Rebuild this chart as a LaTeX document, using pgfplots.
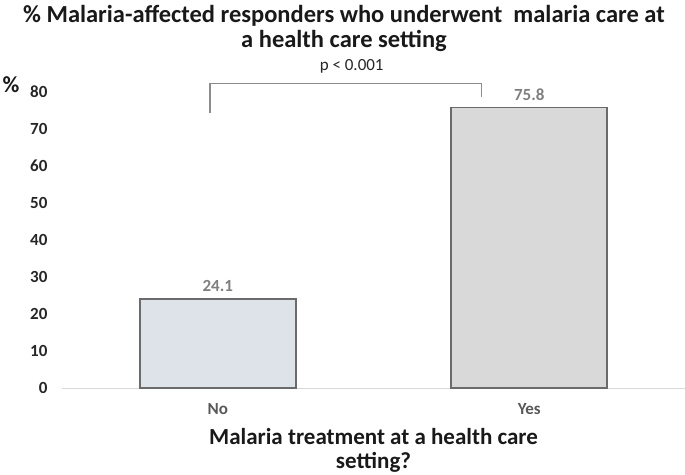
\documentclass[border=0pt]{standalone}
\usepackage{pgfplots}
\pgfplotsset{compat=1.18}
\usepackage{fontspec}
\setmainfont{Carlito}
\definecolor{barno}{HTML}{DEE3EA}
\definecolor{baryes}{HTML}{D9D9D9}
\definecolor{barline}{HTML}{6B6B6B}
\definecolor{lbl}{HTML}{7F7F7F}
\definecolor{tick}{HTML}{595959}
\definecolor{brk}{HTML}{8C8C8C}

\begin{document}
\begin{tikzpicture}
\begin{axis}[
  at={(0pt,0pt)}, anchor=south west,
  scale only axis,
  width=623pt, height=333pt,
  xmin=-0.5, xmax=1.5, ymin=0, ymax=90,
  axis line style={draw=none},
  clip=false,
  bar width=0.5,
  ytick={0,10,...,80},
  xtick={0,1}, xticklabels={No,Yes},
  major tick length=0pt,
  /pgf/number format/assume math mode=true,
  yticklabel style={font=\fontsize{17}{19}\selectfont\bfseries, text=black!85, xshift=-11pt},
  xticklabel style={font=\fontsize{17}{19}\selectfont\bfseries, text=tick, yshift=-12pt},
  nodes near coords,
  nodes near coords style={font=\fontsize{17}{19}\selectfont\bfseries, text=lbl, yshift=3pt},
  every axis plot/.append style={ybar, bar shift=0pt, line width=1.8pt, draw=barline},
]
\draw[baryes, line width=0.8pt] (axis cs:-0.5,0) -- (axis cs:1.5,0);
\addplot[fill=barno] coordinates {(0,24.1)};
\addplot[fill=baryes] coordinates {(1,75.8)};
\draw[brk, line width=1.1pt] (axis cs:-0.025,74.3) -- (axis cs:-0.025,82.4) -- (axis cs:0.846,82.4) -- (axis cs:0.846,78.6);
\node[font=\fontsize{17}{19}\selectfont, text=black!85] at (axis cs:0.43,86.8) {p < 0.001};
\end{axis}
\node[font=\fontsize{24.5}{25}\selectfont\bfseries, align=center, text=black!90] at (282pt,360pt)
  {\% Malaria-affected responders who underwent\ \ malaria care at\\a health care setting};
\node[font=\fontsize{23}{24}\selectfont\bfseries, align=center, text=black!90] at (311.5pt,-62pt)
  {Malaria treatment at a health care\\setting?};
\node[font=\fontsize{23}{24}\selectfont\bfseries, text=black!90] at (-51pt,303pt) {\%};
\pgfresetboundingbox
\path[use as bounding box] (-62pt,-86pt) rectangle (623pt,388pt);
\end{tikzpicture}
\end{document}
